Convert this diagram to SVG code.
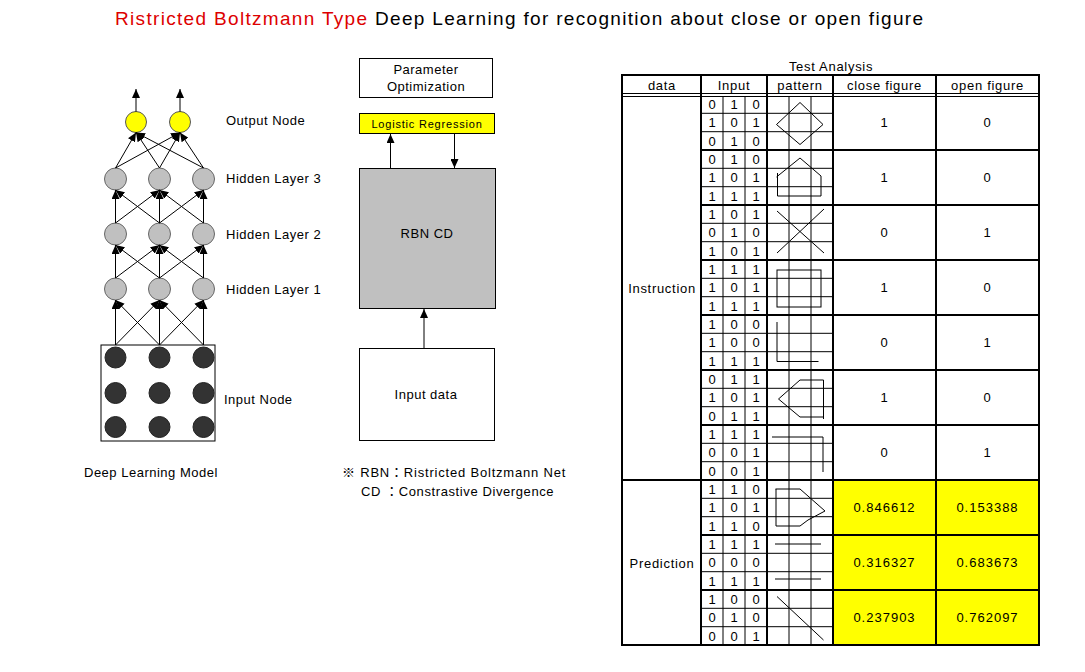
<svg xmlns="http://www.w3.org/2000/svg" width="1085" height="672" viewBox="0 0 1085 672">
<style>
text{font-family:"Liberation Sans","Noto Sans CJK JP",sans-serif;fill:#000}
.lbl{font-size:13px;letter-spacing:0.5px}
.sm{font-size:13px;letter-spacing:0.7px}
.dg{font-size:13px;text-anchor:middle}
.c{text-anchor:middle}
.hid{fill:#c0c0c0;stroke:#666;stroke-width:1}
.out{fill:#ffff00;stroke:#555;stroke-width:1}
.inp{fill:#333;stroke:#222;stroke-width:1}
.box{fill:#fff;stroke:#000;stroke-width:1}
.cn line{stroke:#000;stroke-width:1;marker-end:url(#ah)}
.thin{stroke:#000;stroke-width:1;fill:none}
.thick{stroke:#000;stroke-width:2;fill:none}
.pat{stroke:#000;stroke-width:1;fill:none}
</style>
<defs>
<marker id="ah" markerWidth="9" markerHeight="8" refX="9" refY="4" orient="auto" markerUnits="userSpaceOnUse"><path d="M0,0 L9,4 L0,8 z" fill="#000"/></marker>
</defs>
<rect width="1085" height="672" fill="#fff"/>
<text x="115" y="25" style="font-size:19px" textLength="808" lengthAdjust="spacing"><tspan fill="#dd0000" style="fill:#dd0000">Ristricted Boltzmann Type</tspan> Deep Learning for recognition about close or open figure</text>

<!-- Left network -->
<g id="input-box"><rect class="box" x="101" y="345" width="114" height="96"/></g>
<g id="input-nodes">
<circle class="inp" cx="115.5" cy="357.5" r="10.5"/><circle class="inp" cx="159.5" cy="357.5" r="10.5"/><circle class="inp" cx="203.5" cy="357.5" r="10.5"/>
<circle class="inp" cx="115.5" cy="393" r="10.5"/><circle class="inp" cx="159.5" cy="393" r="10.5"/><circle class="inp" cx="203.5" cy="393" r="10.5"/>
<circle class="inp" cx="115.5" cy="427" r="10.5"/><circle class="inp" cx="159.5" cy="427" r="10.5"/><circle class="inp" cx="203.5" cy="427" r="10.5"/>
</g>
<g id="hidden1"><circle class="hid" cx="115.5" cy="289" r="11"/><circle class="hid" cx="159.5" cy="289" r="11"/><circle class="hid" cx="203.5" cy="289" r="11"/></g>
<g id="hidden2"><circle class="hid" cx="115.5" cy="234" r="11"/><circle class="hid" cx="159.5" cy="234" r="11"/><circle class="hid" cx="203.5" cy="234" r="11"/></g>
<g id="hidden3"><circle class="hid" cx="115.5" cy="179" r="11"/><circle class="hid" cx="159.5" cy="179" r="11"/><circle class="hid" cx="203.5" cy="179" r="11"/></g>
<g id="output"><circle class="out" cx="136" cy="122" r="10.5"/><circle class="out" cx="180" cy="122" r="10.5"/></g>
<g id="labels-left">
<text class="lbl" x="226" y="125">Output Node</text>
<text class="lbl" x="226" y="183">Hidden Layer 3</text>
<text class="lbl" x="226" y="239">Hidden Layer 2</text>
<text class="lbl" x="226" y="294">Hidden Layer 1</text>
<text class="lbl" x="224" y="404">Input Node</text>
<text class="lbl" x="84" y="477">Deep Learning Model</text>
</g>

<!-- Middle -->
<g id="param-opt"><rect class="box" x="359.5" y="58.5" width="133" height="39"/>
<text class="lbl c" x="426" y="74">Parameter</text><text class="lbl c" x="426" y="91">Optimization</text></g>
<g id="logistic"><rect x="359.5" y="113.5" width="135" height="20" fill="#ffff00" stroke="#000"/>
<text class="c" x="427" y="128" style="font-size:11px;letter-spacing:0.8px">Logistic Regression</text></g>
<g id="rbn-cd"><rect x="359.5" y="168.5" width="136" height="140" fill="#c0c0c0" stroke="#000"/>
<text class="lbl c" x="427" y="238">RBN CD</text></g>
<g id="input-data"><rect class="box" x="359.5" y="348.5" width="135" height="92"/>
<text class="lbl c" x="426" y="399">Input data</text></g>
<g id="footnote">
<text class="lbl" x="342" y="477" style="letter-spacing:0.8px">※ RBN：Ristricted Boltzmann Net</text>
<text class="lbl" x="361" y="496" style="letter-spacing:0.6px">CD  ：Constrastive Divergence</text>
</g>

<g id="connectors" class="cn">
<line x1="115.5" y1="345" x2="115.5" y2="300"/><line x1="115.5" y1="345" x2="159.5" y2="300"/>
<line x1="159.5" y1="345" x2="115.5" y2="300"/><line x1="159.5" y1="345" x2="159.5" y2="300"/><line x1="159.5" y1="345" x2="203.5" y2="300"/>
<line x1="203.5" y1="345" x2="159.5" y2="300"/><line x1="203.5" y1="345" x2="203.5" y2="300"/>
<line x1="115.5" y1="278" x2="115.5" y2="245"/><line x1="115.5" y1="278" x2="159.5" y2="245"/>
<line x1="159.5" y1="278" x2="115.5" y2="245"/><line x1="159.5" y1="278" x2="159.5" y2="245"/><line x1="159.5" y1="278" x2="203.5" y2="245"/>
<line x1="203.5" y1="278" x2="159.5" y2="245"/><line x1="203.5" y1="278" x2="203.5" y2="245"/>
<line x1="115.5" y1="223" x2="115.5" y2="190"/><line x1="115.5" y1="223" x2="159.5" y2="190"/>
<line x1="159.5" y1="223" x2="115.5" y2="190"/><line x1="159.5" y1="223" x2="159.5" y2="190"/><line x1="159.5" y1="223" x2="203.5" y2="190"/>
<line x1="203.5" y1="223" x2="159.5" y2="190"/><line x1="203.5" y1="223" x2="203.5" y2="190"/>
<line x1="115.5" y1="168" x2="136" y2="132.5"/><line x1="115.5" y1="168" x2="180" y2="132.5"/>
<line x1="159.5" y1="168" x2="136" y2="132.5"/><line x1="159.5" y1="168" x2="180" y2="132.5"/>
<line x1="203.5" y1="168" x2="136" y2="132.5"/><line x1="203.5" y1="168" x2="180" y2="132.5"/>
<line x1="136" y1="111.5" x2="136" y2="89"/><line x1="180" y1="111.5" x2="180" y2="89"/>
<line x1="390.5" y1="168.5" x2="390.5" y2="134"/>
<line x1="454.5" y1="133.5" x2="454.5" y2="168"/>
<line x1="424" y1="348.5" x2="424" y2="309"/>
</g>

<!-- Table -->
<g id="table">
<text class="sm c" x="831" y="71">Test Analysis</text>
<rect x="833" y="480" width="206" height="165" fill="#ffff00"/>
<g class="thin">
<line x1="622" y1="93.5" x2="1039" y2="93.5"/><line x1="622" y1="96.5" x2="1039" y2="96.5"/>
<line x1="723" y1="96" x2="723" y2="645"/><line x1="745" y1="96" x2="745" y2="645"/>
<line x1="789" y1="96" x2="789" y2="645"/><line x1="811" y1="96" x2="811" y2="645"/>
<line x1="701" y1="113.3" x2="833" y2="113.3"/><line x1="701" y1="131.7" x2="833" y2="131.7"/>
<line x1="701" y1="168.3" x2="833" y2="168.3"/><line x1="701" y1="186.7" x2="833" y2="186.7"/>
<line x1="701" y1="223.3" x2="833" y2="223.3"/><line x1="701" y1="241.7" x2="833" y2="241.7"/>
<line x1="701" y1="278.3" x2="833" y2="278.3"/><line x1="701" y1="296.7" x2="833" y2="296.7"/>
<line x1="701" y1="333.3" x2="833" y2="333.3"/><line x1="701" y1="351.7" x2="833" y2="351.7"/>
<line x1="701" y1="388.3" x2="833" y2="388.3"/><line x1="701" y1="406.7" x2="833" y2="406.7"/>
<line x1="701" y1="443.3" x2="833" y2="443.3"/><line x1="701" y1="461.7" x2="833" y2="461.7"/>
<line x1="701" y1="498.3" x2="833" y2="498.3"/><line x1="701" y1="516.7" x2="833" y2="516.7"/>
<line x1="701" y1="553.3" x2="833" y2="553.3"/><line x1="701" y1="571.7" x2="833" y2="571.7"/>
<line x1="701" y1="608.3" x2="833" y2="608.3"/><line x1="701" y1="626.7" x2="833" y2="626.7"/>
</g>
<g class="thick">
<rect x="622" y="75" width="417" height="570"/>
<line x1="701" y1="75" x2="701" y2="645"/><line x1="767" y1="75" x2="767" y2="645"/>
<line x1="833" y1="75" x2="833" y2="645"/><line x1="936" y1="75" x2="936" y2="645"/>
<line x1="701" y1="150" x2="1039" y2="150"/><line x1="701" y1="205" x2="1039" y2="205"/>
<line x1="701" y1="260" x2="1039" y2="260"/><line x1="701" y1="315" x2="1039" y2="315"/>
<line x1="701" y1="370" x2="1039" y2="370"/><line x1="701" y1="425" x2="1039" y2="425"/>
<line x1="622" y1="480" x2="1039" y2="480"/><line x1="701" y1="535" x2="1039" y2="535"/>
<line x1="701" y1="590" x2="1039" y2="590"/>
</g>
<text class="sm c" x="662" y="90">data</text>
<text class="sm c" x="734" y="90">Input</text>
<text class="sm c" x="800" y="90">pattern</text>
<text class="sm c" x="884.5" y="90">close figure</text>
<text class="sm c" x="987.5" y="90">open figure</text>
<text class="sm c" x="662" y="293">Instruction</text>
<text class="sm c" x="662" y="568">Prediction</text>
</g>

<g id="inputs">
<text class="dg" x="712" y="109">0</text><text class="dg" x="734" y="109">1</text><text class="dg" x="756" y="109">0</text>
<text class="dg" x="712" y="127">1</text><text class="dg" x="734" y="127">0</text><text class="dg" x="756" y="127">1</text>
<text class="dg" x="712" y="146">0</text><text class="dg" x="734" y="146">1</text><text class="dg" x="756" y="146">0</text>

<text class="dg" x="712" y="164">0</text><text class="dg" x="734" y="164">1</text><text class="dg" x="756" y="164">0</text>
<text class="dg" x="712" y="182">1</text><text class="dg" x="734" y="182">0</text><text class="dg" x="756" y="182">1</text>
<text class="dg" x="712" y="201">1</text><text class="dg" x="734" y="201">1</text><text class="dg" x="756" y="201">1</text>

<text class="dg" x="712" y="219">1</text><text class="dg" x="734" y="219">0</text><text class="dg" x="756" y="219">1</text>
<text class="dg" x="712" y="237">0</text><text class="dg" x="734" y="237">1</text><text class="dg" x="756" y="237">0</text>
<text class="dg" x="712" y="256">1</text><text class="dg" x="734" y="256">0</text><text class="dg" x="756" y="256">1</text>

<text class="dg" x="712" y="274">1</text><text class="dg" x="734" y="274">1</text><text class="dg" x="756" y="274">1</text>
<text class="dg" x="712" y="292">1</text><text class="dg" x="734" y="292">0</text><text class="dg" x="756" y="292">1</text>
<text class="dg" x="712" y="311">1</text><text class="dg" x="734" y="311">1</text><text class="dg" x="756" y="311">1</text>

<text class="dg" x="712" y="329">1</text><text class="dg" x="734" y="329">0</text><text class="dg" x="756" y="329">0</text>
<text class="dg" x="712" y="347">1</text><text class="dg" x="734" y="347">0</text><text class="dg" x="756" y="347">0</text>
<text class="dg" x="712" y="366">1</text><text class="dg" x="734" y="366">1</text><text class="dg" x="756" y="366">1</text>

<text class="dg" x="712" y="384">0</text><text class="dg" x="734" y="384">1</text><text class="dg" x="756" y="384">1</text>
<text class="dg" x="712" y="402">1</text><text class="dg" x="734" y="402">0</text><text class="dg" x="756" y="402">1</text>
<text class="dg" x="712" y="421">0</text><text class="dg" x="734" y="421">1</text><text class="dg" x="756" y="421">1</text>

<text class="dg" x="712" y="439">1</text><text class="dg" x="734" y="439">1</text><text class="dg" x="756" y="439">1</text>
<text class="dg" x="712" y="457">0</text><text class="dg" x="734" y="457">0</text><text class="dg" x="756" y="457">1</text>
<text class="dg" x="712" y="476">0</text><text class="dg" x="734" y="476">0</text><text class="dg" x="756" y="476">1</text>

<text class="dg" x="712" y="494">1</text><text class="dg" x="734" y="494">1</text><text class="dg" x="756" y="494">0</text>
<text class="dg" x="712" y="512">1</text><text class="dg" x="734" y="512">0</text><text class="dg" x="756" y="512">1</text>
<text class="dg" x="712" y="531">1</text><text class="dg" x="734" y="531">1</text><text class="dg" x="756" y="531">0</text>

<text class="dg" x="712" y="549">1</text><text class="dg" x="734" y="549">1</text><text class="dg" x="756" y="549">1</text>
<text class="dg" x="712" y="567">0</text><text class="dg" x="734" y="567">0</text><text class="dg" x="756" y="567">0</text>
<text class="dg" x="712" y="586">1</text><text class="dg" x="734" y="586">1</text><text class="dg" x="756" y="586">1</text>

<text class="dg" x="712" y="604">1</text><text class="dg" x="734" y="604">0</text><text class="dg" x="756" y="604">0</text>
<text class="dg" x="712" y="622">0</text><text class="dg" x="734" y="622">1</text><text class="dg" x="756" y="622">0</text>
<text class="dg" x="712" y="641">0</text><text class="dg" x="734" y="641">0</text><text class="dg" x="756" y="641">1</text>
</g>

<g id="patterns" class="pat">
<polygon points="800,102.5 823,124.5 800,144.5 776.5,124.5"/>
<polyline points="777.5,173 777.5,196 821,196 821,176 800,158 776.5,177"/>
<line x1="777" y1="211" x2="824" y2="253"/><line x1="824" y1="209" x2="777" y2="253"/>
<rect x="777" y="270" width="44" height="37"/>
<polyline points="777,322 777,361.5 818.5,361.5"/>
<polyline points="823.5,419 823.5,380 800,380 778.5,399 800,417 823.5,417"/>
<polyline points="772,437 823,437 823,472"/>
<polyline points="775.5,489 800,489 825,511 808,520 800,526 776,526 776,489"/>
<line x1="775" y1="544" x2="821" y2="544"/><line x1="775" y1="579" x2="821" y2="579"/>
<line x1="777" y1="596.5" x2="823.5" y2="640"/>
</g>

<g id="results" class="sm">
<text class="c" x="884.5" y="127">1</text><text class="c" x="987.5" y="127">0</text>
<text class="c" x="884.5" y="182">1</text><text class="c" x="987.5" y="182">0</text>
<text class="c" x="884.5" y="237">0</text><text class="c" x="987.5" y="237">1</text>
<text class="c" x="884.5" y="292">1</text><text class="c" x="987.5" y="292">0</text>
<text class="c" x="884.5" y="347">0</text><text class="c" x="987.5" y="347">1</text>
<text class="c" x="884.5" y="402">1</text><text class="c" x="987.5" y="402">0</text>
<text class="c" x="884.5" y="457">0</text><text class="c" x="987.5" y="457">1</text>
<text class="c" x="884.5" y="512" style="letter-spacing:1px">0.846612</text><text class="c" x="987.5" y="512" style="letter-spacing:1px">0.153388</text>
<text class="c" x="884.5" y="567" style="letter-spacing:1px">0.316327</text><text class="c" x="987.5" y="567" style="letter-spacing:1px">0.683673</text>
<text class="c" x="884.5" y="622" style="letter-spacing:1px">0.237903</text><text class="c" x="987.5" y="622" style="letter-spacing:1px">0.762097</text>
</g>
</svg>
